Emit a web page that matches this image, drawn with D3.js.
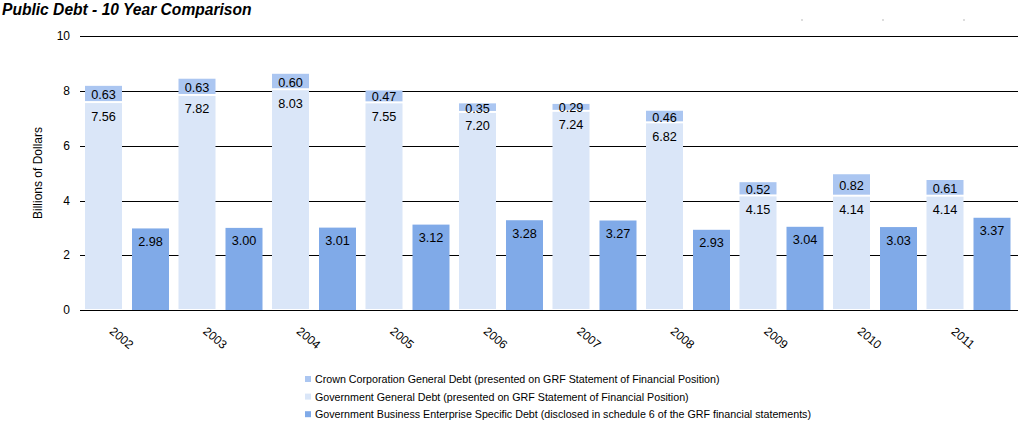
<!DOCTYPE html>
<html>
<head>
<meta charset="utf-8">
<script src="https://cdn.jsdelivr.net/npm/d3@7"></script>
<style>
body { margin: 0; background: #fff; }
text { font-family: "Liberation Sans", Arial, sans-serif; }
</style>
</head>
<body>
<div id="chart"></div>
<script>
(function () {
var years = ["2002", "2003", "2004", "2005", "2006", "2007", "2008", "2009", "2010", "2011"];
var crownDebt = [0.63, 0.63, 0.60, 0.47, 0.35, 0.29, 0.46, 0.52, 0.82, 0.61];
var govDebt = [7.56, 7.82, 8.03, 7.55, 7.20, 7.24, 6.82, 4.15, 4.14, 4.14];
var gbeDebt = [2.98, 3.00, 3.01, 3.12, 3.28, 3.27, 2.93, 3.04, 3.03, 3.37];
var yTicks = [0, 2, 4, 6, 8, 10];
var legendLabels = [
  "Crown Corporation General Debt (presented on GRF Statement of Financial Position)",
  "Government General Debt (presented on GRF Statement of Financial Position)",
  "Government Business Enterprise Specific Debt (disclosed in schedule 6 of the GRF financial statements)"
];

var colCrown = "#abc6f1", colGov = "#dae6f8", colGbe = "#80aae8";

var w = 1020, h = 432;
var svg = d3.select("#chart").append("svg").attr("width", w).attr("height", h);

var x = d3.scaleBand().domain(years).range([80, 1015]);
var y = d3.scaleLinear().domain([0, 10]).range([310, 36.3]);
var bw = 37;

// title
svg.append("text")
  .attr("x", 2).attr("y", 15)
  .attr("font-size", "15.6px").attr("font-weight", "bold").attr("font-style", "italic")
  .text("Public Debt - 10 Year Comparison");

// faint marks top right
[802, 883, 964].forEach(function (mx) {
  svg.append("line").attr("x1", mx).attr("x2", mx).attr("y1", 19).attr("y2", 21)
    .attr("stroke", "#bbb").attr("stroke-width", 1);
});

// gridlines
svg.append("g").selectAll("line").data(yTicks).enter().append("line")
  .attr("x1", 80).attr("x2", 1018)
  .attr("y1", function (d) { return Math.round(y(d)) + 0.5; })
  .attr("y2", function (d) { return Math.round(y(d)) + 0.5; })
  .attr("stroke", "#000").attr("stroke-width", 1);

svg.append("g").selectAll("text").data(yTicks).enter().append("text")
  .attr("x", 70).attr("y", function (d) { return y(d) + 4; })
  .attr("text-anchor", "end").attr("font-size", "12px")
  .text(function (d) { return d; });

svg.append("text")
  .attr("transform", "translate(42,173) rotate(-90)")
  .attr("text-anchor", "middle").attr("font-size", "12px")
  .text("Billions of Dollars");

var bars = svg.append("g");

// government general debt (bottom of stack)
bars.selectAll(".gov").data(years).enter().append("rect")
  .attr("x", function (d) { return x(d) + 5; })
  .attr("y", function (d, i) { return y(govDebt[i]); })
  .attr("width", bw)
  .attr("height", function (d, i) { return y(0) - y(govDebt[i]) - 1; })
  .attr("fill", colGov);

// crown corporation (top of stack)
bars.selectAll(".crown").data(years).enter().append("rect")
  .attr("x", function (d) { return x(d) + 5; })
  .attr("y", function (d, i) { return y(govDebt[i] + crownDebt[i]); })
  .attr("width", bw)
  .attr("height", function (d, i) { return y(govDebt[i]) - y(govDebt[i] + crownDebt[i]) - 2; })
  .attr("fill", colCrown);

// GBE bars
bars.selectAll(".gbe").data(years).enter().append("rect")
  .attr("x", function (d) { return x(d) + 52; })
  .attr("y", function (d, i) { return y(gbeDebt[i]); })
  .attr("width", bw)
  .attr("height", function (d, i) { return y(0) - y(gbeDebt[i]); })
  .attr("fill", colGbe);

// zero line on top
svg.append("line").attr("x1", 80).attr("x2", 1018)
  .attr("y1", Math.round(y(0)) + 0.5).attr("y2", Math.round(y(0)) + 0.5)
  .attr("stroke", "#000");

var labels = svg.append("g").attr("font-size", "12.7px").attr("text-anchor", "middle");

labels.selectAll(".lc").data(years).enter().append("text")
  .attr("x", function (d) { return x(d) + 5 + bw / 2; })
  .attr("y", function (d, i) { return (y(govDebt[i]) + y(govDebt[i] + crownDebt[i])) / 2 + 4.5; })
  .text(function (d, i) { return crownDebt[i].toFixed(2); });

labels.selectAll(".lg").data(years).enter().append("text")
  .attr("x", function (d) { return x(d) + 5 + bw / 2; })
  .attr("y", function (d, i) { return y(govDebt[i]) + 17.5; })
  .text(function (d, i) { return govDebt[i].toFixed(2); });

labels.selectAll(".lb").data(years).enter().append("text")
  .attr("x", function (d) { return x(d) + 52 + bw / 2; })
  .attr("y", function (d, i) { return y(gbeDebt[i]) + 17.5; })
  .text(function (d, i) { return gbeDebt[i].toFixed(2); });

// x labels
svg.append("g").selectAll("text").data(years).enter().append("text")
  .attr("transform", function (d) { return "translate(" + (x(d) + 39) + ",341) rotate(40)"; })
  .attr("text-anchor", "middle").attr("font-size", "12px")
  .text(function (d) { return d; });

// legend
var legendColors = [colCrown, colGov, colGbe];
var lg = svg.append("g").selectAll("g").data(legendLabels).enter().append("g")
  .attr("transform", function (d, i) { return "translate(305," + (379 + i * 17.6) + ")"; });
lg.append("rect").attr("x", 0).attr("y", -3).attr("width", 6).attr("height", 6)
  .attr("fill", function (d, i) { return legendColors[i]; });
lg.append("text").attr("x", 10).attr("y", 4).attr("font-size", "10.7px")
  .text(function (d) { return d; });
})();
</script>
</body>
</html>
